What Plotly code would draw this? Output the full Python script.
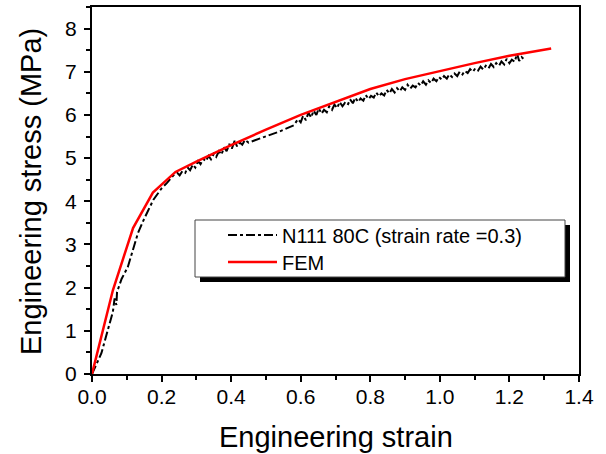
import plotly.graph_objects as go

# FEM curve
fem_strain = [0, 0.06, 0.118, 0.175, 0.24, 0.3, 0.4, 0.5, 0.6, 0.7, 0.8, 0.9, 1.0, 1.1, 1.2, 1.32]
fem_stress = [0, 1.94, 3.38, 4.2, 4.68, 4.92, 5.3, 5.66, 6.0, 6.3, 6.6, 6.83, 7.02, 7.2, 7.37, 7.54]

# Experimental curve (N111 80C, strain rate 0.3)
exp_strain = [0, 0.027, 0.05, 0.06, 0.065, 0.07, 0.072, 0.085, 0.103, 0.118, 0.132, 0.148, 0.162, 0.176,
              0.2, 0.215, 0.234,
              0.245, 0.252, 0.26, 0.268, 0.275, 0.282, 0.29, 0.297, 0.305, 0.312, 0.32, 0.327, 0.335, 0.342,
              0.35, 0.357, 0.365, 0.372, 0.38, 0.387, 0.395, 0.402, 0.41, 0.417, 0.425, 0.432, 0.44, 0.45,
              0.5, 0.54, 0.58,
              0.585, 0.592, 0.6, 0.607, 0.615, 0.622, 0.63, 0.637, 0.645, 0.652, 0.66, 0.667, 0.675, 0.682,
              0.69, 0.697, 0.705, 0.712, 0.72, 0.727, 0.735, 0.742, 0.75, 0.757, 0.765, 0.772, 0.78, 0.787,
              0.795, 0.802, 0.81, 0.817, 0.825, 0.832, 0.84, 0.847, 0.855, 0.862, 0.87, 0.877, 0.885, 0.892,
              0.9, 0.907, 0.915, 0.922, 0.93, 0.937, 0.945, 0.952, 0.96, 0.967, 0.975, 0.982, 0.99, 0.997,
              1.005, 1.012, 1.02, 1.027, 1.035, 1.042, 1.05, 1.057, 1.065, 1.072, 1.08, 1.087, 1.095, 1.102,
              1.11, 1.117, 1.125, 1.132, 1.14, 1.147, 1.155, 1.162, 1.17, 1.177, 1.185, 1.192, 1.2, 1.207,
              1.215, 1.222, 1.228, 1.235, 1.24]
exp_stress = [0, 0.48, 1.15, 1.44, 1.75, 1.6, 1.9, 2.2, 2.48, 2.9, 3.26, 3.56, 3.8, 4.03,
              4.3, 4.42, 4.6,
              4.66, 4.6, 4.7, 4.66, 4.78, 4.72, 4.85, 4.78, 4.93, 4.86, 4.98, 4.93, 5.05, 4.97,
              5.1, 5.03, 5.16, 5.08, 5.25, 5.16, 5.33, 5.22, 5.4, 5.27, 5.36, 5.31, 5.42, 5.36,
              5.5, 5.62, 5.76,
              5.82, 5.9, 5.83, 5.98, 5.88, 6.05, 5.94, 6.1, 6.0, 6.15, 6.03, 6.12, 6.06, 6.2,
              6.12, 6.24, 6.16, 6.3, 6.2, 6.28, 6.23, 6.36, 6.27, 6.4, 6.3, 6.38, 6.33, 6.46,
              6.37, 6.44, 6.4, 6.52, 6.43, 6.5, 6.45, 6.58, 6.5, 6.6, 6.52, 6.62, 6.55, 6.64,
              6.58, 6.7, 6.61, 6.68, 6.64, 6.74, 6.68, 6.78, 6.7, 6.8, 6.74, 6.84, 6.78, 6.88,
              6.82, 6.9, 6.84, 6.94, 6.88, 6.96, 6.9, 7.0, 6.94, 7.02, 6.97, 7.06, 7.0, 7.08,
              7.03, 7.12, 7.05, 7.14, 7.08, 7.18, 7.11, 7.2, 7.14, 7.24, 7.17, 7.3, 7.2, 7.28,
              7.23, 7.42, 7.25, 7.34, 7.3]

x_ticks = [0.0, 0.2, 0.4, 0.6, 0.8, 1.0, 1.2, 1.4]
x_ticklabels = ["0.0", "0.2", "0.4", "0.6", "0.8", "1.0", "1.2", "1.4"]
y_ticks = [0, 1, 2, 3, 4, 5, 6, 7, 8]

FONT = "Liberation Sans, Arial, sans-serif"
W, H = 606, 454
L, R, T, B = 92, 27, 7, 80

def px(xp):
    return (xp - L) / (W - L - R)

def py(yp):
    return (H - B - yp) / (H - T - B)

fig = go.Figure()
fig.add_trace(go.Scatter(x=exp_strain, y=exp_stress, mode="lines",
                         name="N111 80C (strain rate =0.3)", legend="legend",
                         line=dict(color="black", width=2, dash="dashdot")))
fig.add_trace(go.Scatter(x=fem_strain, y=fem_stress, mode="lines", name="FEM", legend="legend2",
                         line=dict(color="#ff0000", width=2.5)))

axis_common = dict(showline=True, linecolor="black", linewidth=2, mirror=True,
                   ticks="outside", ticklen=6, tickwidth=1.5, tickcolor="black",
                   showgrid=False, zeroline=False, automargin=False,
                   tickfont=dict(family=FONT, size=21, color="black"))

fig.update_xaxes(range=[0, 1.4], tickvals=x_ticks, ticktext=x_ticklabels, ticklabelstandoff=-3,
                 minor=dict(dtick=0.1, ticks="outside", ticklen=4, tickcolor="black", tickwidth=1.5),
                 **axis_common)
fig.update_yaxes(range=[0, 8.5], tickvals=y_ticks, ticklabelstandoff=3,
                 minor=dict(dtick=0.5, ticks="outside", ticklen=4, tickcolor="black", tickwidth=1.5),
                 **axis_common)

# axis titles
fig.add_annotation(text="Engineering strain", xref="paper", yref="paper",
                   x=px(336), y=py(437), xanchor="center", yanchor="middle", showarrow=False,
                   font=dict(family=FONT, size=29, color="black"))
fig.add_annotation(text="Engineering stress (MPa)", xref="paper", yref="paper",
                   x=px(31), y=py(192), xanchor="center", yanchor="middle", showarrow=False,
                   textangle=-90, font=dict(family=FONT, size=29, color="black"))

# legend box with drop shadow
fig.add_shape(type="rect", xref="paper", yref="paper",
              x0=px(200), x1=px(570), y0=py(282), y1=py(225),
              fillcolor="black", line=dict(width=0), layer="above")
fig.add_shape(type="rect", xref="paper", yref="paper",
              x0=px(195), x1=px(565), y0=py(277), y1=py(220),
              fillcolor="white", line=dict(color="#444444", width=1), layer="above")

leg_common = dict(xanchor="left", yanchor="middle", bgcolor="rgba(0,0,0,0)", borderwidth=0,
                  font=dict(family=FONT, size=20, color="black"), itemwidth=49)

fig.update_layout(
    width=W, height=H,
    margin=dict(l=L, r=R, t=T, b=B),
    paper_bgcolor="white", plot_bgcolor="white",
    showlegend=True,
    legend=dict(x=px(223), y=py(235), **leg_common),
    legend2=dict(x=px(223), y=py(262), **leg_common),
)

fig.write_html("out.html", config={"displayModeBar": False},
               post_script="document.body.style.margin='0px';")
